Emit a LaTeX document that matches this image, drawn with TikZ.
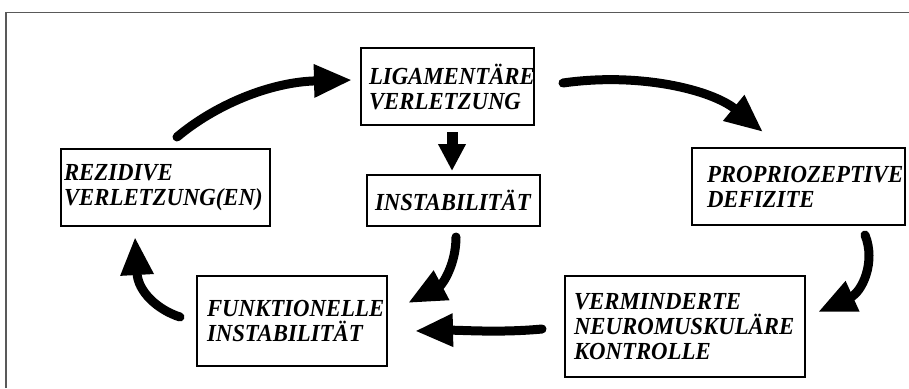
\documentclass[tikz,border=0pt]{standalone}
\usepackage{fontspec}
\setmainfont{Liberation Serif}
\newfontfamily\boxfont[FakeStretch=0.93]{Liberation Serif}
\usetikzlibrary{arrows.meta}
\begin{document}
\begin{tikzpicture}[x=1pt,y=-1pt,
  box/.style={draw=black,line width=1.6pt,rectangle,inner ysep=0pt,align=left,
    font=\boxfont\fontsize{24.5}{25}\selectfont\bfseries\itshape},
  bigarrow/.style={line width=9pt,line cap=round,-{Triangle[length=38pt,width=31pt]}},
  framestyle/.style={draw=black!65,line width=1.5pt}]
\useasboundingbox (0,0) rectangle (909,388);
\draw[framestyle] (6,388) -- (6,12.7) -- (909,12.7);
\node[box,minimum width=173pt,minimum height=77pt,inner xsep=8pt,text width=157pt] (lig) at (447.5,86.5) {LIGAMENTÄRE\\VERLETZUNG};
\node[box,minimum width=173pt,minimum height=51pt,inner xsep=8pt,text width=157pt] (inst) at (453.5,200.5) {INSTABILITÄT};
\node[box,minimum width=209pt,minimum height=77pt,inner xsep=3pt,text width=203pt] (rez) at (165.5,187.5) {REZIDIVE\\VERLETZUNG(EN)};
\node[box,minimum width=213pt,minimum height=77pt,inner xsep=15pt,text width=183pt] (prop) at (798.5,186.5) {PROPRIOZEPTIVE\\DEFIZITE};
\node[box,minimum width=190pt,minimum height=90pt,inner xsep=10pt,text width=170pt] (funk) at (292,321) {FUNKTIONELLE\\INSTABILITÄT};
\node[box,minimum width=240pt,minimum height=101pt,inner xsep=9pt,text width=222pt] (verm) at (685,326.5) {VERMINDERTE\\NEUROMUSKULÄRE\\KONTROLLE};
\coordinate (a1s) at (563,83);  \coordinate (a1e) at (763,132);
\coordinate (a2s) at (865,235); \coordinate (a2e) at (818,312);
\coordinate (a3s) at (542,329); \coordinate (a3e) at (415,331);
\coordinate (a4s) at (456,237); \coordinate (a4e) at (408,303);
\coordinate (a5s) at (180,317); \coordinate (a5e) at (135,237);
\coordinate (a6s) at (177,137); \coordinate (a6e) at (352,80);
\coordinate (a7s) at (452,132); \coordinate (a7e) at (452,171);
\draw[bigarrow] (a1s) .. controls (640,72) and (712,90) .. (a1e);
\draw[bigarrow] (a2s) .. controls (876,262) and (862,292) .. (a2e);
\draw[bigarrow] (a3s) .. controls (500,333) and (460,330) .. (a3e);
\draw[bigarrow] (a4s) .. controls (456,265) and (442,285) .. (a4e);
\draw[bigarrow] (a5s) .. controls (158,310) and (138,292) .. (a5e);
\draw[bigarrow] (a6s) .. controls (215,105) and (270,82) .. (a6e);
\draw[line width=11pt,-{Triangle[length=27pt,width=26pt]}] (a7s) -- (a7e);
\end{tikzpicture}
\end{document}
